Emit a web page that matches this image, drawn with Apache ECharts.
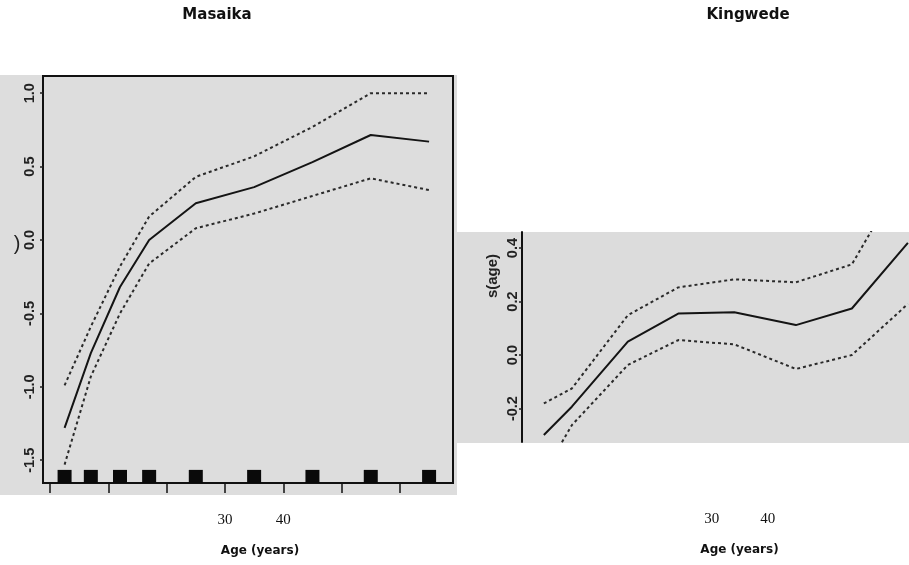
<!DOCTYPE html>
<html>
<head>
<meta charset="utf-8">
<script src="https://cdn.jsdelivr.net/npm/echarts@6/dist/echarts.min.js"></script>
<style>html,body{margin:0;padding:0;background:#fff;}#c{width:909px;height:565px;}</style>
</head>
<body>
<div id="c"></div>
<script>
// ---- data ----
const titles = ['Masaika', 'Kingwede'];
const xName = 'Age (years)';
const yNameR = 's(age)';
const xTickLabels = [30, 40];
const xTicksL = [0, 10, 20, 30, 40, 50, 60];
const yTicksL = [-1.5, -1.0, -0.5, 0.0, 0.5, 1.0];
const yTicksR = [-0.2, 0.0, 0.2, 0.4];

// Masaika
const ageL   = [2.5, 7, 12, 17, 25, 35, 45, 55, 65];
const fitL   = [-1.28, -0.77, -0.32, 0.00, 0.25, 0.36, 0.53, 0.715, 0.67];
const upperL = [-0.99, -0.59, -0.18, 0.16, 0.43, 0.57, 0.77, 1.00, 1.00];
const lowerL = [-1.53, -0.93, -0.50, -0.16, 0.08, 0.18, 0.30, 0.42, 0.34];
const rugL   = [2.5, 7, 12, 17, 25, 35, 45, 55, 65];
const rugLevel = -1.61;

// Kingwede
const ageR   = [0, 5, 15, 24, 34, 45, 55, 65];
const fitR   = [-0.299, -0.193, 0.050, 0.155, 0.160, 0.112, 0.174, 0.419];
const upperR = [-0.181, -0.125, 0.149, 0.253, 0.283, 0.272, 0.339, 0.699];
const lowerR = [-0.442, -0.262, -0.037, 0.056, 0.040, -0.052, 0.000, 0.191];

const zip = (a, b) => a.map((v, i) => [v, b[i]]);
const boldSans = 'Liberation Sans';
const titleFont = 'DejaVu Sans';
const fmt1 = v => Number(v).toFixed(1);

const chart = echarts.init(document.getElementById('c'), null, {renderer: 'canvas'});

const solid = {color: '#141414', width: 2};
const dotted = {color: '#2a2a2a', width: 2, type: [3, 3], cap: 'butt'};

chart.setOption({
  animation: false,
  backgroundColor: '#ffffff',
  title: [
    {text: titles[0], left: 212, top: 3, textAlign: 'center',
     textStyle: {fontFamily: titleFont, fontWeight: 'bold', fontSize: 15, color: '#111'}},
    {text: titles[1], left: 743, top: 3, textAlign: 'center',
     textStyle: {fontFamily: titleFont, fontWeight: 'bold', fontSize: 15, color: '#111'}}
  ],
  graphic: [
    {type: 'rect', z: -100, shape: {x: 0, y: 75, width: 457, height: 420}, style: {fill: '#dddddd'}},
    {type: 'rect', z: -100, shape: {x: 457, y: 232, width: 452, height: 211}, style: {fill: '#dcdcdc'}},
    {type: 'text', x: 17, y: 244, style: {text: ')', font: '20px "Liberation Sans"', fill: '#222', textAlign: 'center', textVerticalAlign: 'middle'}},
    {type: 'text', x: 493, y: 276, rotation: Math.PI / 2,
     style: {text: yNameR, font: 'bold 15px "Liberation Sans"', fill: '#222', textAlign: 'center', textVerticalAlign: 'middle'}}
  ],
  grid: [
    {left: 43, top: 76, width: 410, height: 407, show: true, borderColor: '#111', borderWidth: 2, backgroundColor: 'transparent'},
    {left: 522, top: 232, width: 387, height: 210, show: false}
  ],
  xAxis: [
    {type: 'value', gridIndex: 0, min: -1.2, max: 69.1,
     name: xName, nameLocation: 'middle', nameGap: 62,
     nameTextStyle: {fontFamily: titleFont, fontWeight: 'bold', fontSize: 12, color: '#111', padding: [0, 0, 0, 24]},
     axisLine: {show: true, onZero: false, lineStyle: {color: '#111', width: 2}},
     axisTick: {show: true, customValues: xTicksL, length: 10, lineStyle: {color: '#111', width: 1.5}},
     axisLabel: {show: true, customValues: xTickLabels, margin: 30,
       fontFamily: 'Liberation Serif', fontSize: 15, color: '#111'},
     splitLine: {show: false}},
    {type: 'value', gridIndex: 1, min: -3.9, max: 65.2,
     name: xName, nameLocation: 'middle', nameGap: 102,
     nameTextStyle: {fontFamily: titleFont, fontWeight: 'bold', fontSize: 12, color: '#111', padding: [0, 0, 0, 48]},
     axisLine: {show: false, onZero: false},
     axisTick: {show: false},
     axisLabel: {show: true, customValues: xTickLabels, margin: 70,
       fontFamily: 'Liberation Serif', fontSize: 15, color: '#111'},
     splitLine: {show: false}}
  ],
  yAxis: [
    {type: 'value', gridIndex: 0, min: -1.655, max: 1.117,
     axisLine: {show: true, onZero: false, lineStyle: {color: '#111', width: 2}},
     axisTick: {show: true, customValues: yTicksL, length: 3, lineStyle: {color: '#222', width: 1.5}},
     axisLabel: {show: true, customValues: yTicksL, rotate: 90, margin: 6, formatter: fmt1,
       fontFamily: boldSans, fontWeight: 'bold', fontSize: 14.5, color: '#222'},
     splitLine: {show: false}},
    {type: 'value', gridIndex: 1, min: -0.325, max: 0.46,
     axisLine: {show: true, onZero: false, lineStyle: {color: '#111', width: 2}},
     axisTick: {show: true, customValues: yTicksR, length: 3, lineStyle: {color: '#222', width: 1.5}},
     axisLabel: {show: true, customValues: yTicksR, rotate: 90, margin: 2, formatter: fmt1,
       fontFamily: boldSans, fontWeight: 'bold', fontSize: 14.5, color: '#222'},
     splitLine: {show: false}}
  ],
  series: [
    {type: 'line', xAxisIndex: 0, yAxisIndex: 0, data: zip(ageL, fitL), showSymbol: false, lineStyle: solid, clip: true},
    {type: 'line', xAxisIndex: 0, yAxisIndex: 0, data: zip(ageL, upperL), showSymbol: false, lineStyle: dotted, clip: true},
    {type: 'line', xAxisIndex: 0, yAxisIndex: 0, data: zip(ageL, lowerL), showSymbol: false, lineStyle: dotted, clip: true},
    {type: 'scatter', xAxisIndex: 0, yAxisIndex: 0, data: rugL.map(a => [a, rugLevel]),
     symbol: 'rect', symbolSize: [14, 13], itemStyle: {color: '#0a0a0a', opacity: 1}, z: 5},
    {type: 'line', xAxisIndex: 1, yAxisIndex: 1, data: zip(ageR, fitR), showSymbol: false, lineStyle: solid, clip: true},
    {type: 'line', xAxisIndex: 1, yAxisIndex: 1, data: zip(ageR, upperR), showSymbol: false, lineStyle: dotted, clip: true},
    {type: 'line', xAxisIndex: 1, yAxisIndex: 1, data: zip(ageR, lowerR), showSymbol: false, lineStyle: dotted, clip: true}
  ]
});
</script>
</body>
</html>
